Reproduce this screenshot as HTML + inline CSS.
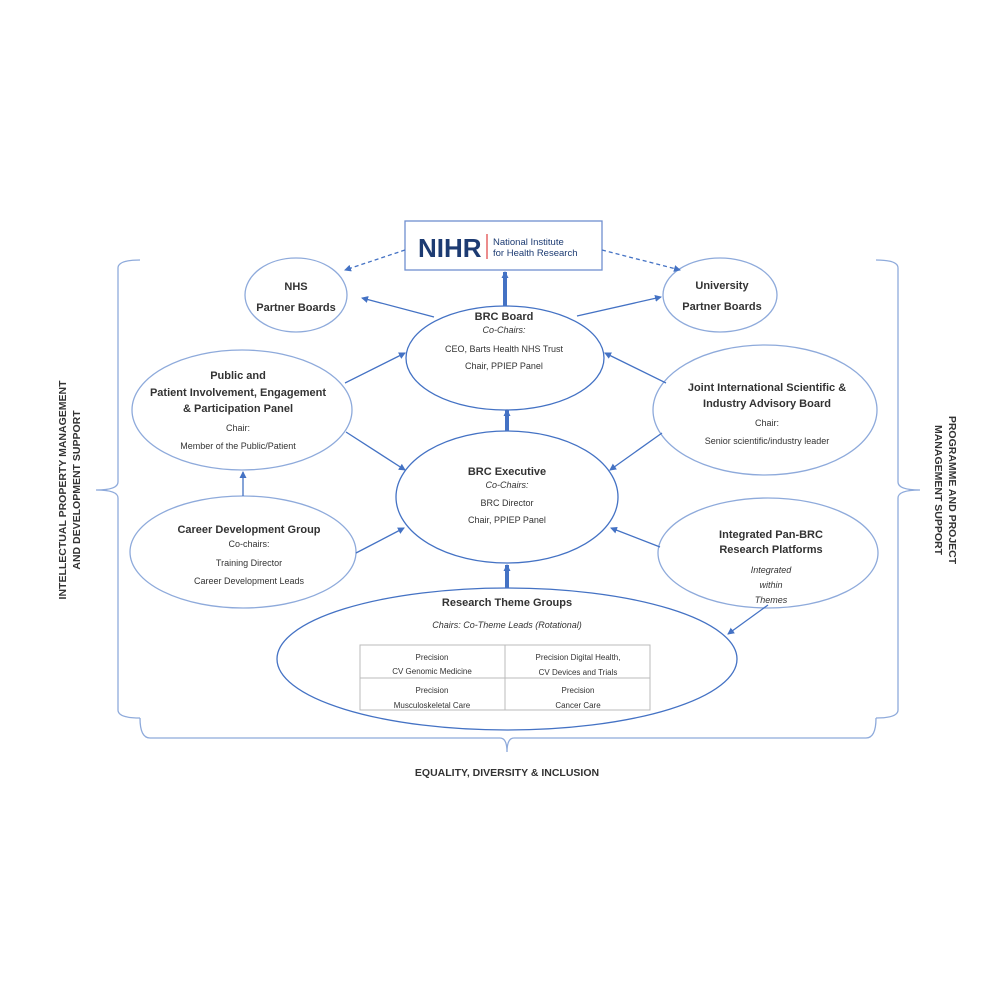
<!DOCTYPE html>
<html><head><meta charset="utf-8"><style>
html,body{margin:0;padding:0;background:#fff;}
svg{display:block;}
text{font-family:"Liberation Sans",sans-serif;fill:#333;}
.t{font-weight:bold;font-size:11px;}
.s{font-size:9px;}
.i{font-size:9px;font-style:italic;}
</style></head><body>
<svg width="1000" height="1000" viewBox="0 0 1000 1000" xmlns="http://www.w3.org/2000/svg">
<defs>
<marker id="a" markerWidth="7" markerHeight="7" refX="6" refY="3.5" orient="auto" markerUnits="userSpaceOnUse"><path d="M0,0 L7,3.5 L0,7 z" fill="#4472c4"/></marker>
</defs>
<g fill="none" stroke="#4472c4" stroke-width="1.3">
<path d="M140,260 Q118,260 118,268 L118,482 Q118,490 96,490 Q118,490 118,498 L118,710 Q118,718 140,718" stroke="#8eaadb"/>
<path d="M876,260 Q898,260 898,268 L898,482 Q898,490 920,490 Q898,490 898,498 L898,710 Q898,718 876,718" stroke="#8eaadb"/>
<path d="M140,718 Q140,738 150,738 L500,738 Q507,738 507,752 Q507,738 514,738 L866,738 Q876,738 876,718" stroke="#8eaadb"/>
<ellipse cx="296" cy="295" rx="51" ry="37" stroke="#8eaadb"/>
<ellipse cx="720" cy="295" rx="57" ry="37" stroke="#8eaadb"/>
<ellipse cx="505" cy="358" rx="99" ry="52"/>
<ellipse cx="507" cy="497" rx="111" ry="66"/>
<ellipse cx="242" cy="410" rx="110" ry="60" stroke="#8eaadb"/>
<ellipse cx="243" cy="552" rx="113" ry="56" stroke="#8eaadb"/>
<ellipse cx="765" cy="410" rx="112" ry="65" stroke="#8eaadb"/>
<ellipse cx="768" cy="553" rx="110" ry="55" stroke="#8eaadb"/>
<ellipse cx="507" cy="659" rx="230" ry="71"/>
<rect x="405" y="221" width="197" height="49" stroke="#6f8fd0"/>
<path d="M405,250 L345,270" stroke-dasharray="4,3" marker-end="url(#a)"/>
<path d="M602,250 L680,270" stroke-dasharray="4,3" marker-end="url(#a)"/>
<path d="M434,317 L362,298" marker-end="url(#a)"/>
<path d="M577,316 L661,297" marker-end="url(#a)"/>
<path d="M505,306 L505,272" stroke-width="4" marker-end="url(#a)"/>
<path d="M507,431 L507,410" stroke-width="4" marker-end="url(#a)"/>
<path d="M507,588 L507,565" stroke-width="4" marker-end="url(#a)"/>
<path d="M345,383 L405,353" marker-end="url(#a)"/>
<path d="M666,383 L605,353" marker-end="url(#a)"/>
<path d="M346,432 L405,470" marker-end="url(#a)"/>
<path d="M662,433 L610,470" marker-end="url(#a)"/>
<path d="M356,553 L404,528" marker-end="url(#a)"/>
<path d="M660,547 L611,528" marker-end="url(#a)"/>
<path d="M243,496 L243,472" marker-end="url(#a)"/>
<path d="M768,605 L728,634" marker-end="url(#a)"/>
</g>
<g fill="none" stroke="#bbb" stroke-width="1">
<rect x="360" y="645" width="290" height="65"/>
<line x1="505" y1="645" x2="505" y2="710"/>
<line x1="360" y1="678" x2="650" y2="678"/>
</g>
<text x="418" y="257" style="font-weight:bold;font-size:26px;fill:#1d3b72">NIHR</text>
<line x1="487" y1="234" x2="487" y2="259" stroke="#e04040" stroke-width="1.2"/>
<text x="493" y="245" style="font-size:9.5px;fill:#1d3b72">National Institute</text>
<text x="493" y="256" style="font-size:9.5px;fill:#1d3b72">for Health Research</text>
<g text-anchor="middle">
<text class="t" x="296" y="290">NHS</text>
<text class="t" x="296" y="311">Partner Boards</text>
<text class="t" x="722" y="289">University</text>
<text class="t" x="722" y="310">Partner Boards</text>
<text class="t" x="504" y="320">BRC Board</text>
<text class="i" x="504" y="333">Co-Chairs:</text>
<text class="s" x="504" y="352">CEO, Barts Health NHS Trust</text>
<text class="s" x="504" y="369">Chair, PPIEP Panel</text>
<text class="t" x="507" y="475">BRC Executive</text>
<text class="i" x="507" y="488">Co-Chairs:</text>
<text class="s" x="507" y="506">BRC Director</text>
<text class="s" x="507" y="523">Chair, PPIEP Panel</text>
<text class="t" x="238" y="379">Public and</text>
<text class="t" x="238" y="396">Patient Involvement, Engagement</text>
<text class="t" x="238" y="412">&amp; Participation Panel</text>
<text class="s" x="238" y="431">Chair:</text>
<text class="s" x="238" y="449">Member of the Public/Patient</text>
<text class="t" x="249" y="533">Career Development Group</text>
<text class="s" x="249" y="547">Co-chairs:</text>
<text class="s" x="249" y="566">Training Director</text>
<text class="s" x="249" y="584">Career Development Leads</text>
<text class="t" x="767" y="391">Joint International Scientific &amp;</text>
<text class="t" x="767" y="407">Industry Advisory Board</text>
<text class="s" x="767" y="426">Chair:</text>
<text class="s" x="767" y="444">Senior scientific/industry leader</text>
<text class="t" x="771" y="538">Integrated Pan-BRC</text>
<text class="t" x="771" y="553">Research Platforms</text>
<text class="i" x="771" y="573">Integrated</text>
<text class="i" x="771" y="588">within</text>
<text class="i" x="771" y="603">Themes</text>
<text class="t" x="507" y="606">Research Theme Groups</text>
<text class="i" x="507" y="628">Chairs: Co-Theme Leads (Rotational)</text>
<text style="font-size:8px" x="432" y="660">Precision</text>
<text style="font-size:8px" x="432" y="674">CV Genomic Medicine</text>
<text style="font-size:8px" x="578" y="660">Precision Digital Health,</text>
<text style="font-size:8px" x="578" y="675">CV Devices and  Trials</text>
<text style="font-size:8px" x="432" y="693">Precision</text>
<text style="font-size:8px" x="432" y="708">Musculoskeletal Care</text>
<text style="font-size:8px" x="578" y="693">Precision</text>
<text style="font-size:8px" x="578" y="708">Cancer Care</text>
<text class="t" x="507" y="776" style="font-size:10.5px">EQUALITY, DIVERSITY &amp; INCLUSION</text>
<g transform="translate(70,490) rotate(-90)">
<text class="t" x="0" y="-4" style="font-size:10.5px">INTELLECTUAL PROPERTY MANAGEMENT</text>
<text class="t" x="0" y="10" style="font-size:10.5px">AND DEVELOPMENT SUPPORT</text>
</g>
<g transform="translate(945,490) rotate(90)">
<text class="t" x="0" y="-4" style="font-size:10.5px">PROGRAMME AND PROJECT</text>
<text class="t" x="0" y="10" style="font-size:10.5px">MANAGEMENT SUPPORT</text>
</g>
</g>
</svg>
</body></html>
